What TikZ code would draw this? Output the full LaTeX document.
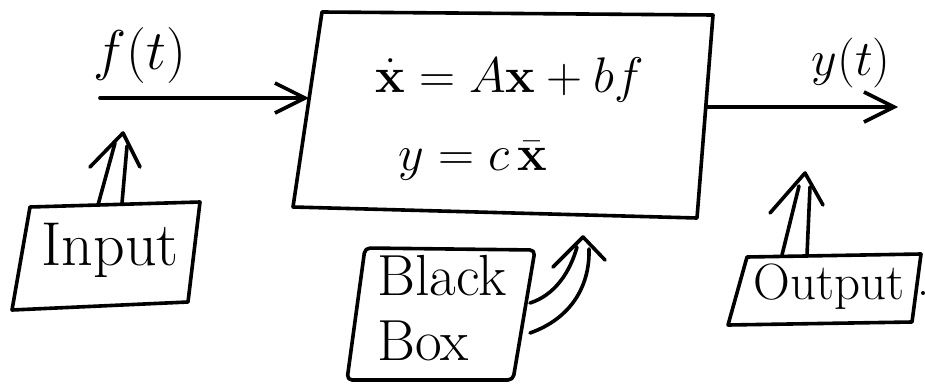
\RequirePackage{fix-cm}
\documentclass[tikz,border=0pt]{standalone}
\usepackage{amsmath}
\usetikzlibrary{arrows.meta}
\begin{document}
\begin{tikzpicture}[x=1pt,y=-1pt,
  ink/.style={line width=3.6pt,line cap=round,line join=round},
  barb/.style={ink,-{Straight Barb[length=30pt,width=30pt,line width=3.6pt]}},
  lbl/.style={inner sep=0pt,font=\fontsize{50}{60}\selectfont},
  txt/.style={inner sep=0pt,anchor=base,font=\fontsize{58}{68}\selectfont}]
\useasboundingbox (0,0) rectangle (925,383);
% main box
\coordinate (m1) at (322,12);
\coordinate (m2) at (713,15);
\coordinate (m3) at (697,218);
\coordinate (m4) at (293,207);
\draw[ink] (m1) -- (m2) -- (m3) -- (m4) -- cycle;
\node[lbl,anchor=base] (eq1) at (510,92) {$\dot{\mathbf{x}} = A\mathbf{x} + b f$};
\node[lbl,anchor=base] (eq2) at (473,170) {$y = c\,\bar{\mathbf{x}}$};
% input signal
\coordinate (fin) at (100,98);
\coordinate (boxin) at (309,98);
\draw[barb] (fin) -- (boxin);
\node[lbl,font=\fontsize{56}{66}\selectfont] (ft) at (140,55) {$f(t)$};
% output signal
\coordinate (boxout) at (706,107);
\coordinate (yend) at (898,107);
\draw[barb] (boxout) -- (yend);
\node[lbl] (yt) at (851,63) {$y(t)$};
% Input box
\coordinate (i1) at (30,207);
\coordinate (i2) at (200,202);
\coordinate (i3) at (188,302);
\coordinate (i4) at (12,310);
\draw[ink] (i1) -- (i2) -- (i3) -- (i4) -- cycle;
\node[txt,font=\fontsize{62}{72}\selectfont] (input) at (110,265) {Input};
\coordinate (ia) at (98,205);
\coordinate (ib) at (122,203);
\coordinate (itip) at (123,133);
\draw[ink] (ia) -- (115,143);
\draw[ink] (ib) -- (127,146);
\draw[ink] (90,167) -- (itip) -- (140,167);
% Output box
\coordinate (o1) at (747,257);
\coordinate (o2) at (921,254);
\coordinate (o3) at (912,322);
\coordinate (o4) at (728,325);
\draw[ink] (o1) -- (o2) -- (o3) -- (o4) -- cycle;
\node[txt,font=\fontsize{51}{60}\selectfont] (output) at (829,299) {Output};
\fill (923,293) circle (2pt);
\coordinate (oa) at (782,255);
\coordinate (ob) at (807,255);
\coordinate (otip) at (805,173);
\draw[ink] (oa) -- (799,186);
\draw[ink] (ob) -- (810,187);
\draw[ink] (770,213) -- (otip) -- (823,205);
% Black Box
\coordinate (b1) at (365,248);
\coordinate (b2) at (535,250);
\coordinate (b3) at (513,380);
\coordinate (b4) at (347,380);
\draw[ink,rounded corners=5pt] (b1) -- (b2) -- (b3) -- (b4) -- cycle;
\node[txt,anchor=base west] (black) at (377,295) {Black};
\node[txt,anchor=base west] (bbox) at (377,360) {Box};
\coordinate (ca) at (530,303);
\coordinate (cb) at (530,333);
\coordinate (ctip) at (583,237);
\draw[ink] (ca) .. controls (555,295) and (570,272) .. (577,247);
\draw[ink] (cb) .. controls (572,318) and (590,285) .. (589,249);
\draw[ink] (553,267) -- (ctip) -- (605,260);
\end{tikzpicture}
\end{document}
